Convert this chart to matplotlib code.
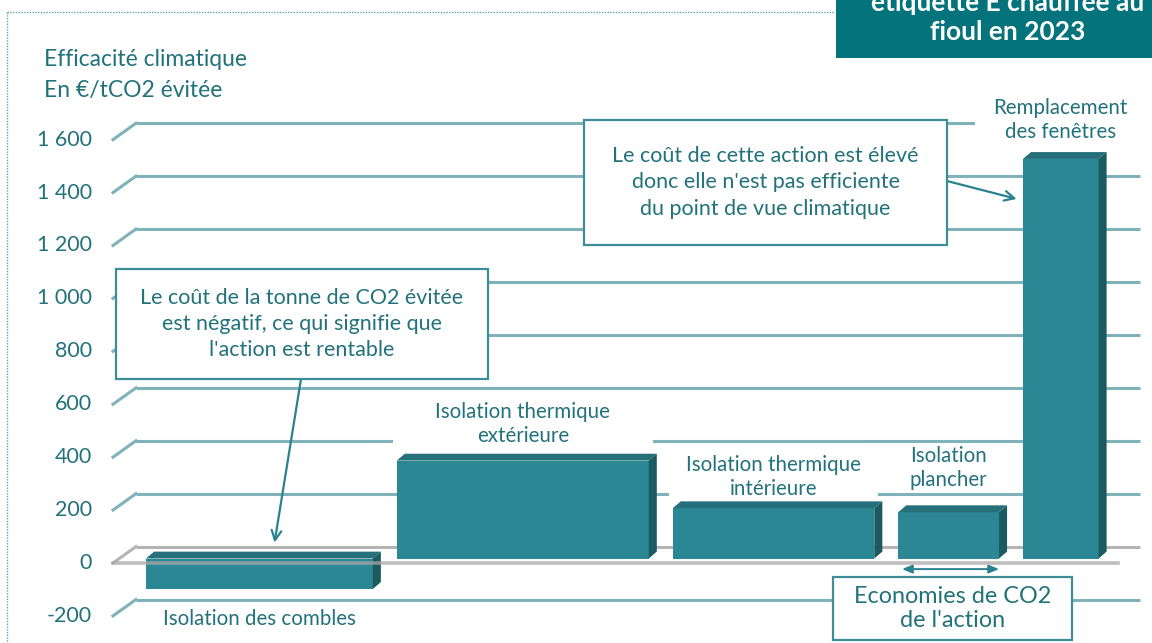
import matplotlib
matplotlib.use("Agg")
import matplotlib.pyplot as plt
from matplotlib.patches import Rectangle, Polygon

# Data: CO2 savings (bar width) and climate efficiency (bar height)
actions = ["Isolation des combles", "Isolation thermique\nextérieure",
           "Isolation thermique\nintérieure", "Isolation\nplancher",
           "Remplacement\ndes fenêtres"]
co2_savings = [9, 10, 8, 4, 3]
cost_per_t = [-115, 370, 190, 175, 1510]
yticks = [-200, 0, 200, 400, 600, 800, 1000, 1200, 1400, 1600]

# Style
teal_text = "#22727c"
grid_col = "#7fb2b9"
front_col = "#2c8794"
top_col = "#25707a"
side_col = "#1c5a62"
W, H = 1152, 643

plt.rcParams["font.family"] = ["Lato", "DejaVu Sans"]

fig = plt.figure(figsize=(W / 100, H / 100), dpi=100)
ax = fig.add_axes([0, 0, 1, 1])
ax.set_xlim(-5.794, 39.921)
ax.set_ylim(-319.3, 2110.7)
ax.axis("off")


def px(x, y):
    # pixel (from top-left) -> figure fraction
    return x / W, 1 - y / H


# pseudo-3D offsets (data units)
gap = 0.95
front_dx, front_dy = -1.31, -17
back_x0, back_dy = -0.4, 45
back_x1 = 39.44
bar_dx, bar_dy = 0.32, 26

# back wall gridlines + diagonal ticks + labels
for v in yticks:
    c = "#b4b4b4" if v == 0 else grid_col
    ax.plot([back_x0, back_x1], [v + back_dy, v + back_dy], color=c, lw=2.2, zorder=1,
            solid_capstyle="butt")
    ax.plot([front_dx, back_x0], [v + front_dy, v + back_dy], color=c, lw=2.2, zorder=1)
    ax.text(-2.14, v + front_dy, "{:,}".format(v).replace(",", " "), ha="right", va="center",
            fontsize=15.5, color=teal_text)

# front floor line (drawn over the bars, like the original)
ax.plot([front_dx, 38.57], [front_dy, front_dy], color="#a8a8a8", lw=2.6, alpha=0.75, zorder=5)

# bars
lefts = []
pos = 0
for w in co2_savings:
    lefts.append(pos)
    pos += w + gap

ax.bar(lefts, cost_per_t, width=co2_savings, align="edge", color=front_col, zorder=4)
for l, w, v in zip(lefts, co2_savings, cost_per_t):
    lo, hi = min(0, v), max(0, v)
    ax.add_patch(Polygon([(l, hi), (l + bar_dx, hi + bar_dy), (l + w + bar_dx, hi + bar_dy), (l + w, hi)],
                         closed=True, facecolor=top_col, edgecolor="none", zorder=4))
    ax.add_patch(Polygon([(l + w, lo), (l + w + bar_dx, lo + bar_dy), (l + w + bar_dx, hi + bar_dy), (l + w, hi)],
                         closed=True, facecolor=side_col, edgecolor="none", zorder=4))

# bar labels with white background hiding the gridlines
label_y = [-229, 508, 308, 342, 1657]
label_h = [120, 200, 200, 190, 200]
for l, w, ly, lh, name in zip(lefts, co2_savings, label_y, label_h, actions):
    cx = l + w / 2
    bw = max(w + 0.3, 6.8)
    ax.add_patch(Rectangle((cx - bw / 2, ly - lh / 2), bw, lh, facecolor="white", edgecolor="none", zorder=3))
    ax.text(cx, ly, name, ha="center", va="center", fontsize=14.8, color=teal_text,
            linespacing=1.3, zorder=3.5)

# axis title
fig.text(*px(44, 60), "Efficacité climatique", ha="left", va="center", fontsize=16.5, color=teal_text)
fig.text(*px(44, 91), "En €/tCO2 évitée", ha="left", va="center", fontsize=16.5, color=teal_text)

# dotted frame
fig.add_artist(plt.Line2D([7 / W, 835 / W], [1 - 12 / H] * 2, transform=fig.transFigure,
                          color="#5fa7b0", lw=1, linestyle=(0, (1, 1))))
fig.add_artist(plt.Line2D([7 / W] * 2, [1 - 12 / H, 0], transform=fig.transFigure,
                          color="#5fa7b0", lw=1, linestyle=(0, (1, 1))))

# header box (cropped at top, as in the original)
x0, y1 = px(836, 58)
fig.add_artist(Rectangle((x0, y1), 1 - x0, 1 - y1, transform=fig.transFigure,
                         facecolor="#04737b", edgecolor="none"))
fig.text(*px(1008, 3), "étiquette E chauffée au", ha="center", va="center", fontsize=19,
         fontweight="bold", color="white")
fig.text(*px(1008, 32), "fioul en 2023", ha="center", va="center", fontsize=19,
         fontweight="bold", color="white")


def callout(x_l, y_t, x_r, y_b, text, fs, ls):
    fx0, fy0 = px(x_l, y_b)
    fx1, fy1 = px(x_r, y_t)
    fig.add_artist(Rectangle((fx0, fy0), fx1 - fx0, fy1 - fy0, transform=fig.transFigure,
                             facecolor="white", edgecolor="#3e8e98", lw=1.6, zorder=6))
    fig.text((fx0 + fx1) / 2, (fy0 + fy1) / 2, text, ha="center", va="center", fontsize=fs,
             color=teal_text, linespacing=ls, zorder=7)


arrow_kw = dict(arrowstyle="->,head_length=0.7,head_width=0.35", color="#2a8290", lw=1.6,
                shrinkA=0, shrinkB=0)

callout(116, 269, 488, 379, "Le coût de la tonne de CO2 évitée\nest négatif, ce qui signifie que\nl'action est rentable",
        15.5, 1.38)
ax.annotate("", xy=(lefts[0] + 5.1, 60), xytext=px(301, 379), textcoords="figure fraction",
            arrowprops=arrow_kw, zorder=6)

callout(584, 120, 947, 245, "Le coût de cette action est élevé\ndonc elle n'est pas efficiente\ndu point de vue climatique",
        15.5, 1.38)
ax.annotate("", xy=(lefts[4] - 0.25, cost_per_t[4] * 0.9), xytext=px(947, 181),
            textcoords="figure fraction", arrowprops=arrow_kw, zorder=6)

callout(833, 577, 1072, 640, "Economies de CO2\nde l'action", 16.8, 1.2)
ax.annotate("", xy=(lefts[3] + 0.15, -40), xytext=(lefts[3] + co2_savings[3], -40),
            arrowprops=dict(arrowstyle="<|-|>,head_length=0.6,head_width=0.25", color="#2a8290",
                            lw=1.4, shrinkA=0, shrinkB=0), zorder=6)

fig.savefig("out.png", dpi=100)
